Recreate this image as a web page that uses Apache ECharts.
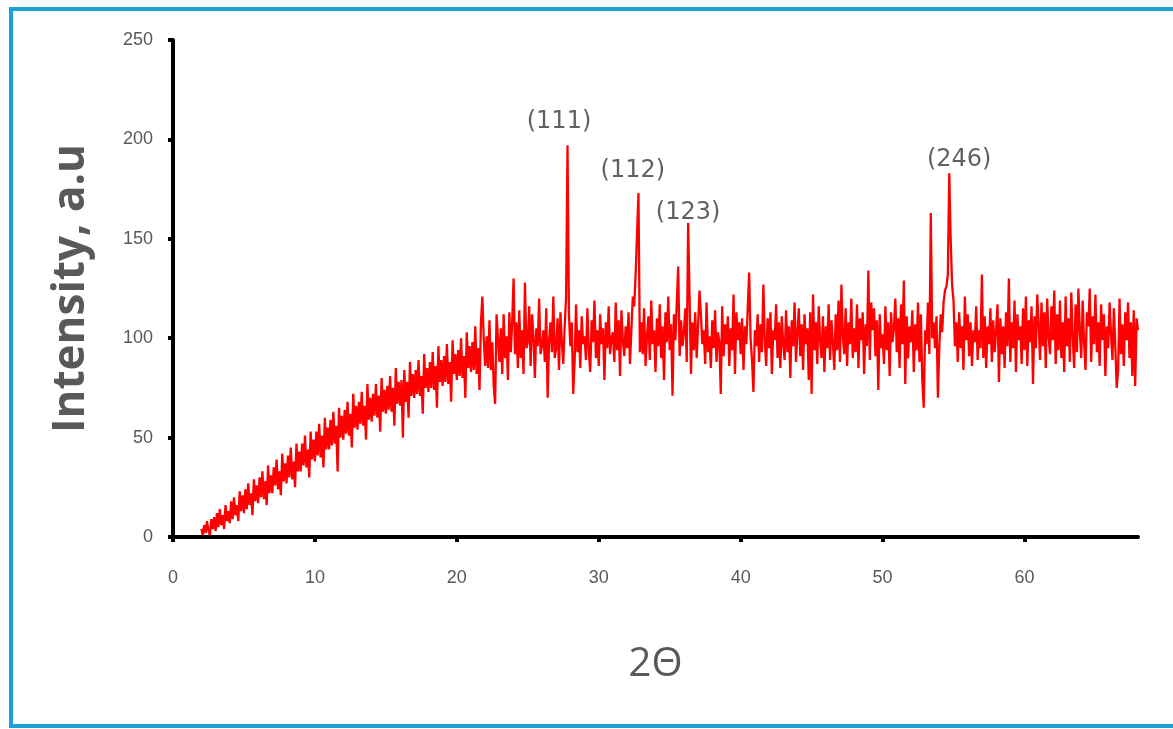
<!DOCTYPE html>
<html>
<head>
<meta charset="utf-8">
<title>XRD</title>
<script src="https://cdn.jsdelivr.net/npm/echarts@6/dist/echarts.min.js"></script>
<style>
  html, body { margin: 0; padding: 0; background: #fff; }
  #chart { width: 1173px; height: 729px; }
</style>
</head>
<body>
<div id="chart"></div>
<script>
// scan: 2θ from 2.0 in steps of 0.1
var scanStart = 2.0;
var scanStep = 0.1;

// intensity, one row per degree
var intensity = [
  4, 1, 6, 2, 8, 3, 1, 9, 4, 10,
  3, 12, 5, 14, 6, 11, 4, 16, 8, 13,
  7, 18, 9, 20, 11, 16, 8, 23, 13, 21,
  12, 24, 14, 27, 16, 22, 11, 29, 18, 26,
  17, 30, 20, 33, 19, 28, 16, 36, 22, 31,
  22, 35, 26, 39, 24, 33, 21, 42, 28, 37,
  27, 41, 30, 45, 29, 38, 25, 47, 33, 43,
  33, 47, 36, 51, 35, 44, 30, 53, 39, 49,
  38, 53, 41, 57, 40, 51, 35, 60, 44, 55,
  44, 59, 46, 63, 47, 56, 33, 65, 50, 61,
  49, 64, 52, 68, 51, 62, 45, 72, 55, 66,
  54, 68, 57, 73, 56, 66, 49, 77, 59, 70,
  58, 72, 61, 77, 60, 71, 53, 80, 63, 74,
  62, 76, 64, 81, 63, 75, 56, 85, 67, 78,
  66, 79, 50, 84, 68, 78, 60, 88, 71, 82,
  70, 84, 72, 89, 71, 81, 62, 92, 75, 85,
  73, 88, 75, 93, 74, 86, 65, 96, 78, 89,
  76, 91, 78, 97, 77, 88, 68, 99, 82, 92,
  79, 94, 81, 100, 80, 91, 70, 103, 85, 96,
  83, 98, 84, 106, 82, 95, 74, 108, 121, 99,
  86, 101, 85, 109, 84, 98, 76, 67, 112, 100,
  88, 105, 82, 112, 90, 101, 79, 113, 93, 108,
  130, 92, 108, 85, 114, 90, 104, 82, 128, 95,
  98, 116, 86, 112, 101, 80, 105, 96, 120, 92,
  96, 104, 88, 115, 70, 99, 108, 93, 121, 90,
  95, 110, 84, 113, 98, 87, 106, 121, 197, 112,
  96, 108, 72, 88, 117, 93, 104, 85, 111, 97,
  101, 89, 115, 94, 83, 109, 98, 119, 90, 104,
  86, 112, 97, 105, 79, 108, 95, 116, 92, 100,
  103, 88, 118, 94, 109, 81, 114, 99, 91, 106,
  95, 113, 87, 104, 121, 116, 132, 153, 173, 93,
  108, 92, 115, 86, 101, 111, 89, 119, 97, 104,
  83, 110, 96, 117, 90, 106, 79, 113, 98, 121,
  94, 107, 71, 112, 99, 118, 136, 91, 109, 96,
  103, 115, 88, 158, 121, 82, 108, 94, 113, 90,
  106, 124, 112, 97, 104, 87, 118, 93, 101, 85,
  109, 95, 114, 88, 103, 98, 72, 116, 91, 107,
  97, 111, 86, 105, 94, 122, 82, 113, 99, 108,
  92, 110, 84, 106, 97, 115, 133, 100, 89, 73,
  104, 96, 112, 88, 107, 93, 127, 99, 86, 110,
  95, 113, 82, 104, 99, 117, 90, 108, 85, 111,
  97, 89, 114, 93, 106, 80, 109, 96, 118, 88,
  103, 115, 91, 107, 84, 112, 97, 105, 79, 113,
  72, 122, 94, 108, 87, 116, 99, 90, 111, 83,
  106, 95, 117, 89, 109, 98, 84, 112, 94, 119,
  88, 127, 101, 92, 115, 86, 108, 97, 120, 90,
  105, 93, 117, 85, 110, 99, 113, 82, 107, 96,
  134, 89, 118, 104, 115, 91, 109, 74, 112, 95,
  102, 87, 116, 94, 108, 81, 113, 98, 105, 120,
  93, 110, 85, 117, 97, 129, 77, 111, 90, 106,
  98, 114, 83, 107, 94, 118, 88, 112, 79, 65,
  104, 97, 118, 92, 163, 100, 108, 95, 111, 70,
  96, 112, 103, 118, 124, 126, 132, 183, 150, 127,
  119, 96, 108, 88, 113, 95, 106, 84, 121, 99,
  112, 91, 108, 86, 104, 98, 116, 89, 104, 95,
  132, 90, 111, 85, 106, 97, 115, 88, 109, 93,
  104, 117, 78, 110, 92, 106, 85, 113, 96, 130,
  88, 108, 95, 119, 83, 112, 99, 106, 87, 115,
  94, 121, 86, 109, 98, 116, 77, 111, 95, 122,
  107, 89, 118, 96, 113, 85, 120, 101, 92, 116,
  99, 124, 87, 112, 94, 119, 90, 108, 83, 121,
  96, 110, 88, 123, 101, 85, 117, 93, 125, 104,
  90, 119, 98, 84, 113, 106, 125, 88, 111, 97,
  122, 93, 108, 86, 117, 99, 112, 81, 106, 95,
  118, 102, 89, 115, 96, 75, 84, 120, 92, 107,
  86, 113, 99, 118, 90, 108, 81, 114, 76, 110,
  104
];

// peak labels (miller indices) and where their text sits
var peakNames = ['(111)', '(112)', '(123)', '(246)'];
var peakLabelX = [27.2, 32.4, 36.3, 55.4];
var peakLabelY = [209, 184, 163, 190];

// tick labels
var xTicks = [0, 10, 20, 30, 40, 50, 60];
var yTicks = [0, 50, 100, 150, 200, 250];

var chart = echarts.init(document.getElementById('chart'));

// build the [2θ, I] pairs
var lineData = [];
for (var i = 0; i < intensity.length; i++) {
  lineData.push([+(scanStart + i * scanStep).toFixed(1), intensity[i]]);
}

var labelData = [];
for (var j = 0; j < peakNames.length; j++) {
  labelData.push({ name: peakNames[j], value: [peakLabelX[j], peakLabelY[j]] });
}

var tickFont = "'Liberation Sans Narrow', 'Liberation Sans', sans-serif";

var option = {
  backgroundColor: '#ffffff',
  animation: false,
  grid: { left: 173, right: 35, top: 40, bottom: 192 },
  graphic: [
    {
      type: 'rect',
      shape: { x: 11, y: 9, width: 1200, height: 717 },
      style: { fill: 'none', stroke: '#1ba1d6', lineWidth: 4 },
      silent: true
    }
  ],
  xAxis: {
    type: 'value',
    min: 0,
    max: 68,
    interval: 10,
    name: '2Θ',
    nameLocation: 'middle',
    nameGap: 108,
    nameTextStyle: { color: '#595959', fontSize: 40, fontWeight: 500, fontFamily: "'Open Sans', sans-serif" },
    axisLine: { onZero: false, lineStyle: { color: '#000', width: 4 } },
    axisTick: { show: true, length: 5, customValues: xTicks, lineStyle: { color: '#000', width: 4 } },
    axisLabel: { customValues: xTicks, color: '#595959', fontSize: 18, margin: 32, fontFamily: tickFont },
    splitLine: { show: false }
  },
  yAxis: {
    type: 'value',
    min: 0,
    max: 250,
    interval: 50,
    name: 'Intensity, a.u',
    nameLocation: 'middle',
    nameGap: 80,
    nameRotate: 90,
    nameTextStyle: { color: '#595959', fontSize: 44, fontWeight: 'bold', fontFamily: "'Open Sans', sans-serif" },
    axisLine: { show: true, onZero: false, lineStyle: { color: '#000', width: 4 } },
    axisTick: { show: true, length: 5, customValues: yTicks, lineStyle: { color: '#000', width: 4 } },
    axisLabel: { customValues: yTicks, color: '#595959', fontSize: 18, margin: 20, fontFamily: tickFont },
    splitLine: { show: false }
  },
  series: [
    {
      type: 'line',
      data: lineData,
      showSymbol: false,
      symbol: 'none',
      sampling: null,
      lineStyle: { color: '#ff0000', width: 2.3 },
      z: 2
    },
    {
      type: 'scatter',
      data: labelData,
      symbolSize: 0,
      silent: true,
      label: {
        show: true,
        position: 'inside',
        formatter: '{b}',
        color: '#3a3a3a',
        fontSize: 24,
        fontFamily: "'DejaVu Sans', sans-serif"
      },
      z: 3
    }
  ]
};

chart.setOption(option);
</script>
</body>
</html>
